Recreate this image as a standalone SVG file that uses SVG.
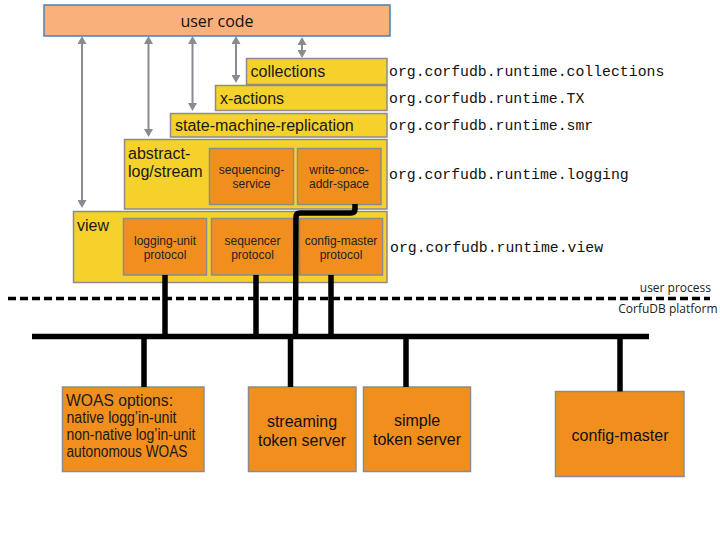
<svg xmlns="http://www.w3.org/2000/svg" width="720" height="540" viewBox="0 0 720 540">
<style>
.lay{fill:#F5D12B;stroke:#8C8C8C;stroke-width:1.5}
.sub{fill:#F18F1E;stroke:#8C8C8C;stroke-width:1.5}
.lbl{font-family:"Liberation Sans",Arial,sans-serif;font-size:16px;fill:#1a1a1a}
.sm{font-family:"Liberation Sans",Arial,sans-serif;font-size:12px;fill:#222;text-anchor:middle}
.big{font-family:"Liberation Sans",Arial,sans-serif;font-size:16px;fill:#111;text-anchor:middle}
.pkg{font-family:"Liberation Mono","Courier New",monospace;font-size:14.8px;fill:#111}
.os{font-family:"Open Sans","Liberation Sans",sans-serif;font-size:12px;fill:#222;text-anchor:end}
.arr{stroke:#888B90;stroke-width:2;fill:none;marker-start:url(#ah);marker-end:url(#ah)}
.wire{stroke:#000;stroke-width:5.5;fill:none}
</style>
<defs>
<marker id="ah" markerUnits="userSpaceOnUse" markerWidth="9" markerHeight="9" refX="0" refY="4.5" orient="auto-start-reverse" viewBox="0 0 8 9">
<path d="M0,0 L8,4.5 L0,9 z" fill="#888B90"/>
</marker>
</defs>

<g id="user-code">
<rect x="44" y="5" width="346" height="31" fill="#F9B07A" stroke="#4C7EBB" stroke-width="1.5"/>
<text x="217" y="27" font-family="'Open Sans','Liberation Sans',sans-serif" font-size="16" fill="#111" text-anchor="middle">user code</text>
</g>

<g id="view">
<rect class="lay" x="73.5" y="211.5" width="313.5" height="71"/>
<text class="lbl" x="77" y="231">view</text>
</g>
<g id="logging-unit-protocol">
<rect class="sub" x="123.5" y="218.5" width="83" height="56.5"/>
<text class="sm" x="165" y="245">logging-unit</text>
<text class="sm" x="165" y="259">protocol</text>
</g>
<g id="sequencer-protocol">
<rect class="sub" x="211.5" y="218.5" width="82" height="56.5"/>
<text class="sm" x="252.5" y="245">sequencer</text>
<text class="sm" x="252.5" y="259">protocol</text>
</g>
<g id="config-master-protocol">
<rect class="sub" x="299.5" y="218.5" width="83" height="56.5"/>
<text class="sm" x="341" y="245">config-master</text>
<text class="sm" x="341" y="259">protocol</text>
</g>

<g id="abstract-log">
<rect class="lay" x="124.5" y="139.5" width="262.5" height="69.5"/>
<text class="lbl" x="128" y="159">abstract-</text>
<text class="lbl" x="128" y="177">log/stream</text>
</g>
<g id="sequencing-service">
<rect class="sub" x="209.5" y="148.5" width="84" height="56"/>
<text class="sm" x="251.5" y="174">sequencing-</text>
<text class="sm" x="251.5" y="188">service</text>
</g>
<g id="write-once-addr-space">
<rect class="sub" x="297.5" y="148.5" width="83.5" height="56"/>
<text class="sm" x="339" y="174">write-once-</text>
<text class="sm" x="339" y="188">addr-space</text>
</g>

<g id="smr">
<rect class="lay" x="170.5" y="113.5" width="216.5" height="23.5"/>
<text class="lbl" x="175" y="131">state-machine-replication</text>
</g>
<g id="x-actions">
<rect class="lay" x="215.5" y="85.5" width="171.5" height="25"/>
<text class="lbl" x="220" y="104">x-actions</text>
</g>
<g id="collections">
<rect class="lay" x="246.5" y="58.5" width="140.5" height="26"/>
<text class="lbl" x="250.5" y="77">collections</text>
</g>

<g id="packages">
<text class="pkg" x="389" y="76">org.corfudb.runtime.collections</text>
<text class="pkg" x="389" y="103">org.corfudb.runtime.TX</text>
<text class="pkg" x="389" y="130">org.corfudb.runtime.smr</text>
<text class="pkg" x="389" y="179">org.corfudb.runtime.logging</text>
<text class="pkg" x="390" y="252">org.corfudb.runtime.view</text>
</g>

<g id="boundary">
<line x1="8" y1="298.5" x2="710" y2="298.5" stroke="#000" stroke-width="3.5" stroke-dasharray="8 4"/>
<text class="os" x="711" y="292">user process</text>
<text class="os" x="717.5" y="312.5">CorfuDB platform</text>
</g>

<g id="woas-options">
<rect class="sub" x="62.5" y="387" width="141.5" height="84.5"/>
<text class="lbl" x="66" y="406" textLength="107" lengthAdjust="spacingAndGlyphs">WOAS options:</text>
<text class="lbl" x="66.5" y="423" font-size="14" textLength="110" lengthAdjust="spacingAndGlyphs">native logg’in-unit</text>
<text class="lbl" x="66.5" y="440" font-size="14" textLength="129" lengthAdjust="spacingAndGlyphs">non-native log’in-unit</text>
<text class="lbl" x="66.5" y="457" font-size="14" textLength="121" lengthAdjust="spacingAndGlyphs">autonomous WOAS</text>
</g>
<g id="streaming-token-server">
<rect class="sub" x="248.5" y="387" width="107.5" height="84.5"/>
<text class="big" x="302" y="427">streaming</text>
<text class="big" x="302" y="446">token server</text>
</g>
<g id="simple-token-server">
<rect class="sub" x="363.5" y="387" width="107" height="84.5"/>
<text class="big" x="417" y="426">simple</text>
<text class="big" x="417" y="445">token server</text>
</g>
<g id="config-master">
<rect class="sub" x="555.5" y="391.5" width="128.5" height="85"/>
<text class="big" x="620" y="441">config-master</text>
</g>

<g id="connectors">
<line class="arr" x1="82" y1="44" x2="82" y2="200"/>
<line class="arr" x1="148.5" y1="44" x2="148.5" y2="129"/>
<line class="arr" x1="192.5" y1="44" x2="192.5" y2="103"/>
<line class="arr" x1="236" y1="44" x2="236" y2="75"/>
<line class="arr" x1="302" y1="45" x2="302" y2="50"/>
<line class="wire" x1="32" y1="336.5" x2="649" y2="336.5" stroke-width="6"/>
<line class="wire" x1="165" y1="275" x2="165" y2="337"/>
<line class="wire" x1="256" y1="275" x2="256" y2="337"/>
<line class="wire" x1="331" y1="275" x2="331" y2="337"/>
<path class="wire" d="M355,204 V209 Q355,213 351,213 H300 Q296,213 296,217 L295.5,337"/>
<line class="wire" x1="144" y1="336" x2="144" y2="387"/>
<line class="wire" x1="290.5" y1="336" x2="290.5" y2="387"/>
<line class="wire" x1="406" y1="336" x2="406" y2="387"/>
<line class="wire" x1="620" y1="336" x2="620" y2="391.5"/>
</g>
</svg>
